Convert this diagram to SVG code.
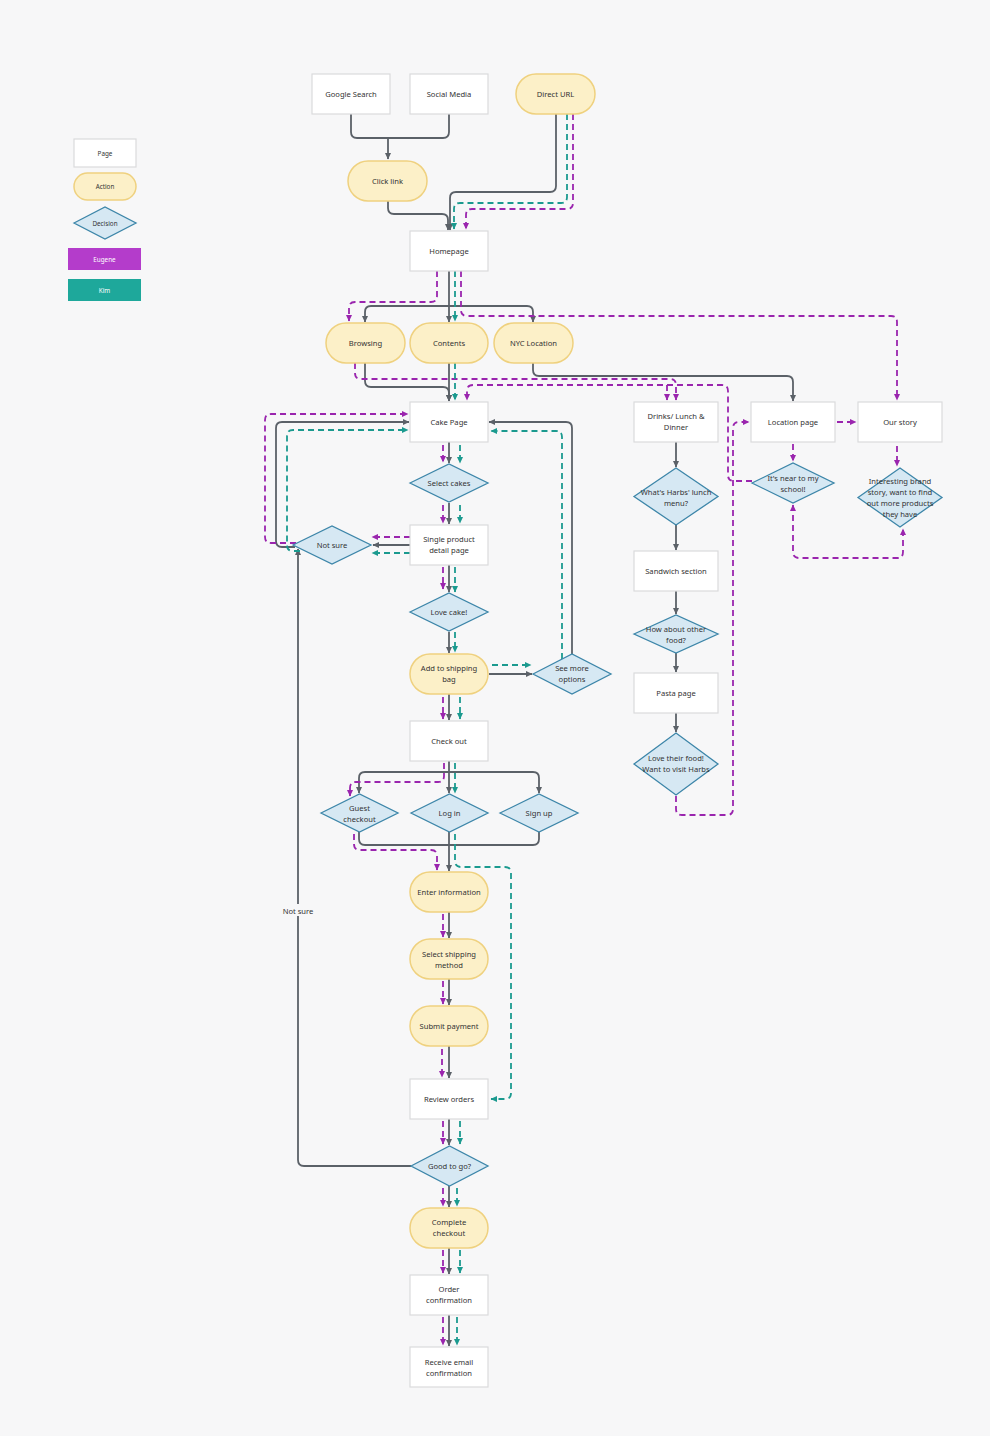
<svg xmlns="http://www.w3.org/2000/svg" width="990" height="1436" viewBox="0 0 990 1436">
<defs>
<marker id="ag" viewBox="0 0 8 8" refX="7" refY="4" markerWidth="7" markerHeight="7" markerUnits="userSpaceOnUse" orient="auto-start-reverse"><path d="M0,0.5 L7.5,4 L0,7.5 z" fill="#5b6168"/></marker>
<marker id="ap" viewBox="0 0 8 8" refX="7" refY="4" markerWidth="7" markerHeight="7" markerUnits="userSpaceOnUse" orient="auto-start-reverse"><path d="M0,0.5 L7.5,4 L0,7.5 z" fill="#9a25ae"/></marker>
<marker id="ak" viewBox="0 0 8 8" refX="7" refY="4" markerWidth="7" markerHeight="7" markerUnits="userSpaceOnUse" orient="auto-start-reverse"><path d="M0,0.5 L7.5,4 L0,7.5 z" fill="#1b9a8f"/></marker>
<style>
.pg{fill:#ffffff;stroke:#dadbdd;stroke-width:1.2}
.ac{fill:#fcf0c8;stroke:#efd17f;stroke-width:1.5}
.dc{fill:#d6e8f3;stroke:#3d86a9;stroke-width:1.3}
.t{font-family:"Noto Sans","Liberation Sans",sans-serif;font-size:7.6px;fill:#333;text-anchor:middle}
.lt{font-family:"Noto Sans","Liberation Sans",sans-serif;font-size:6.3px;fill:#333;text-anchor:middle}
.g{stroke:#5b6168;stroke-width:1.8;fill:none;stroke-linejoin:round}
.ga{marker-end:url(#ag)}
.p{stroke:#9a25ae;stroke-width:1.8;fill:none;stroke-dasharray:6 4;marker-end:url(#ap)}
.k{stroke:#1b9a8f;stroke-width:1.8;fill:none;stroke-dasharray:6 4;marker-end:url(#ak)}
</style>
</defs>
<rect x="0" y="0" width="990" height="1436" fill="#f7f7f8"/>

<g id="legend">
<g id="legend-page"><rect class="pg" x="74" y="139" width="62" height="28"/><text class="lt" x="105" y="155.5">Page</text></g>
<g id="legend-action"><rect class="ac" x="74" y="173" width="62" height="27" rx="13.5"/><text class="lt" x="105" y="189">Action</text></g>
<g id="legend-decision"><polygon class="dc" points="74,223 105,207 136,223 105,239"/><text class="lt" x="105" y="225.5">Decision</text></g>
<g id="legend-eugene"><rect x="68" y="248" width="73" height="22" fill="#b43ccb"/><text class="lt" x="104.5" y="261.5" style="fill:#fff">Eugene</text></g>
<g id="legend-kim"><rect x="68" y="279" width="73" height="22" fill="#1ea89b"/><text class="lt" x="104.5" y="292.5" style="fill:#fff">Kim</text></g>
</g>

<g id="connectors">
<!-- grey -->
<path class="g" d="M351,114 V132 Q351,138 357,138 H443 Q449,138 449,132 V114"/>
<path class="g ga" d="M388,138 V159"/>
<path class="g ga" d="M388,201 V208 Q388,214 394,214 H442 Q448,214 448,220 V230"/>
<path class="g ga" d="M556,114 V186 Q556,192 550,192 H456 Q450,192 450,198 V230"/>
<path class="g ga" d="M449,271 V322"/>
<path class="g ga" d="M449,306 H371 Q365,306 365,312 V322"/>
<path class="g ga" d="M449,306 H527 Q533,306 533,312 V322"/>
<path class="g ga" d="M365,363 V381 Q365,387 371,387 H443 Q449,387 449,393 V401"/>
<path class="g ga" d="M449,363 V401"/>
<path class="g ga" d="M533,363 V370 Q533,376 539,376 H787 Q793,376 793,382 V401"/>
<path class="g ga" d="M449,442 V463"/>
<path class="g ga" d="M449,503 V524"/>
<path class="g ga" d="M410,545 H373"/>
<path class="g ga" d="M295,547 H282 Q276,547 276,541 V428 Q276,422 282,422 H409"/>
<path class="g ga" d="M449,565 V592"/>
<path class="g ga" d="M449,632 V653"/>
<path class="g ga" d="M489,674 H532"/>
<path class="g ga" d="M572,654 V428 Q572,422 566,422 H489"/>
<path class="g ga" d="M449,694 V720"/>
<path class="g ga" d="M449,761 V793"/>
<path class="g ga" d="M449,772 H365 Q359,772 359,778 V793"/>
<path class="g ga" d="M449,772 H533 Q539,772 539,778 V793"/>
<path class="g" d="M359,832 V839 Q359,845 365,845 H533 Q539,845 539,839 V832"/>
<path class="g ga" d="M449,832 V871"/>
<path class="g ga" d="M449,912 V938"/>
<path class="g ga" d="M449,979 V1005"/>
<path class="g ga" d="M449,1046 V1078"/>
<path class="g ga" d="M449,1119 V1145"/>
<path class="g ga" d="M411,1166 H304 Q298,1166 298,1160 V549"/>
<path class="g ga" d="M449,1186 V1207"/>
<path class="g ga" d="M449,1248 V1274"/>
<path class="g ga" d="M449,1315 V1346"/>
<path class="g ga" d="M676,442 V467"/>
<path class="g ga" d="M676,525 V550"/>
<path class="g ga" d="M676,591 V614"/>
<path class="g ga" d="M676,653 V672"/>
<path class="g ga" d="M676,713 V732"/>
<!-- purple (Eugene) -->
<path class="p" d="M573,114 V203 Q573,209 567,209 H472 Q466,209 466,215 V229"/>
<path class="p" d="M437,271 V296 Q437,302 431,302 H355 Q349,302 349,308 V321"/>
<path class="p" d="M461,271 V310 Q461,316 467,316 H891 Q897,316 897,322 V400"/>
<path class="p" d="M355,363 V373 Q355,379 361,379 H670 Q676,379 676,385 V400"/>
<path class="p" d="M752,481 H734 Q728,481 728,475 V391 Q728,385 722,385 H473 Q467,385 467,391 V400"/>
<path class="p" d="M667,385 V400"/>
<path class="p" d="M676,796 V809 Q676,815 682,815 H727 Q733,815 733,809 V428 Q733,422 739,422 H749"/>
<path class="p" d="M410,537 H372"/>
<path class="p" d="M296,543 H271 Q265,543 265,537 V420 Q265,414 271,414 H408"/>
<path class="p" d="M443,445 V462"/>
<path class="p" d="M443,505 V523"/>
<path class="p" d="M443,567 V589"/>
<path class="p" d="M443,697 V719"/>
<path class="p" d="M444,763 V776 Q444,782 438,782 H356 Q350,782 350,788 V796"/>
<path class="p" d="M354,834 V844 Q354,850 360,850 H431 Q437,850 437,856 V870"/>
<path class="p" d="M443,914 V937"/>
<path class="p" d="M443,981 V1004"/>
<path class="p" d="M442,1049 V1077"/>
<path class="p" d="M443,1121 V1144"/>
<path class="p" d="M443,1188 V1206"/>
<path class="p" d="M443,1250 V1273"/>
<path class="p" d="M443,1317 V1345"/>
<path class="p" d="M793,444 V461"/>
<path class="p" d="M837,422 H856"/>
<path class="p" d="M897,446 V466"/>
<path class="p" style="marker-start:url(#ap)" d="M793,505 V552 Q793,558 799,558 H897 Q903,558 903,552 V529"/>
<!-- teal (Kim) -->
<path class="k" d="M567,114 V197 Q567,203 561,203 H460 Q454,203 454,209 V229"/>
<path class="k" d="M455,271 V321"/>
<path class="k" d="M455,363 V400"/>
<path class="k" d="M460,445 V463"/>
<path class="k" d="M460,505 V523"/>
<path class="k" d="M410,553 H372"/>
<path class="k" d="M300,551 H293 Q287,551 287,545 V436 Q287,430 293,430 H408"/>
<path class="k" d="M455,567 V592"/>
<path class="k" d="M455,632 V652"/>
<path class="k" d="M492,665 H531"/>
<path class="k" d="M562,659 V437 Q562,431 556,431 H491"/>
<path class="k" d="M460,697 V719"/>
<path class="k" d="M455,763 V793"/>
<path class="k" d="M455,834 V861 Q455,867 461,867 H505 Q511,867 511,873 V1093 Q511,1099 505,1099 H491"/>
<path class="k" d="M460,1121 V1144"/>
<path class="k" d="M457,1188 V1206"/>
<path class="k" d="M460,1250 V1273"/>
<path class="k" d="M457,1317 V1345"/>
<rect x="281" y="904" width="34" height="12" fill="#f7f7f8"/>
<text class="t" x="298" y="913.5">Not sure</text>
</g>

<g id="google-search"><rect class="pg" x="312" y="74" width="78" height="40"/><text class="t" x="351" y="96.5">Google Search</text></g>
<g id="social-media"><rect class="pg" x="410" y="74" width="78" height="40"/><text class="t" x="449" y="96.5">Social Media</text></g>
<g id="direct-url"><rect class="ac" x="516" y="74" width="79" height="40" rx="20"/><text class="t" x="555.5" y="96.5">Direct URL</text></g>
<g id="click-link"><rect class="ac" x="348" y="161" width="79" height="40" rx="20"/><text class="t" x="387.5" y="183.5">Click link</text></g>
<g id="homepage"><rect class="pg" x="410" y="231" width="78" height="40"/><text class="t" x="449" y="253.5">Homepage</text></g>
<g id="browsing"><rect class="ac" x="326" y="323" width="79" height="40" rx="20"/><text class="t" x="365.5" y="345.5">Browsing</text></g>
<g id="contents"><rect class="ac" x="410" y="323" width="78" height="40" rx="20"/><text class="t" x="449" y="345.5">Contents</text></g>
<g id="nyc-location"><rect class="ac" x="494" y="323" width="79" height="40" rx="20"/><text class="t" x="533.5" y="345.5">NYC Location</text></g>
<g id="cake-page"><rect class="pg" x="410" y="402" width="78" height="40"/><text class="t" x="449" y="424.5">Cake Page</text></g>
<g id="select-cakes"><polygon class="dc" points="410,483 449,464 488,483 449,502"/><text class="t" x="449" y="485.5">Select cakes</text></g>
<g id="single-product"><rect class="pg" x="410" y="525" width="78" height="40"/><text class="t" x="449" y="542">Single product</text><text class="t" x="449" y="553">detail page</text></g>
<g id="not-sure"><polygon class="dc" points="293,545 332,526 371,545 332,564"/><text class="t" x="332" y="547.5">Not sure</text></g>
<g id="love-cake"><polygon class="dc" points="410,612 449,593 488,612 449,631"/><text class="t" x="449" y="614.5">Love cake!</text></g>
<g id="add-to-bag"><rect class="ac" x="410" y="654" width="78" height="40" rx="20"/><text class="t" x="449" y="671">Add to shipping</text><text class="t" x="449" y="682">bag</text></g>
<g id="see-more"><polygon class="dc" points="533,674 572,654 611,674 572,694"/><text class="t" x="572" y="671">See more</text><text class="t" x="572" y="682">options</text></g>
<g id="check-out"><rect class="pg" x="410" y="721" width="78" height="40"/><text class="t" x="449" y="743.5">Check out</text></g>
<g id="guest-checkout"><polygon class="dc" points="321,813 359.5,794 398,813 359.5,832"/><text class="t" x="359.5" y="810.5">Guest</text><text class="t" x="359.5" y="821.5">checkout</text></g>
<g id="log-in"><polygon class="dc" points="411,813 449.5,794 488,813 449.5,832"/><text class="t" x="449.5" y="815.5">Log in</text></g>
<g id="sign-up"><polygon class="dc" points="500,813 539,794 578,813 539,832"/><text class="t" x="539" y="815.5">Sign up</text></g>
<g id="enter-information"><rect class="ac" x="410" y="872" width="78" height="40" rx="20"/><text class="t" x="449" y="894.5">Enter information</text></g>
<g id="select-shipping"><rect class="ac" x="410" y="939" width="78" height="40" rx="20"/><text class="t" x="449" y="956.5">Select shipping</text><text class="t" x="449" y="967.5">method</text></g>
<g id="submit-payment"><rect class="ac" x="410" y="1006" width="78" height="40" rx="20"/><text class="t" x="449" y="1028.5">Submit payment</text></g>
<g id="review-orders"><rect class="pg" x="410" y="1079" width="78" height="40"/><text class="t" x="449" y="1101.5">Review orders</text></g>
<g id="good-to-go"><polygon class="dc" points="411,1166 449.5,1146 488,1166 449.5,1186"/><text class="t" x="449.5" y="1168.5">Good to go?</text></g>
<g id="complete-checkout"><rect class="ac" x="410" y="1208" width="78" height="40" rx="20"/><text class="t" x="449" y="1225">Complete</text><text class="t" x="449" y="1236">checkout</text></g>
<g id="order-confirmation"><rect class="pg" x="410" y="1275" width="78" height="40"/><text class="t" x="449" y="1292">Order</text><text class="t" x="449" y="1303">confirmation</text></g>
<g id="receive-email"><rect class="pg" x="410" y="1347" width="78" height="40"/><text class="t" x="449" y="1364.5">Receive email</text><text class="t" x="449" y="1375.5">confirmation</text></g>

<g id="drinks-lunch-dinner"><rect class="pg" x="634" y="402" width="84" height="40"/><text class="t" x="676" y="419">Drinks/ Lunch &amp;</text><text class="t" x="676" y="430">Dinner</text></g>
<g id="harbs-lunch-menu"><polygon class="dc" points="634,496.5 676,468 718,496.5 676,525"/><text class="t" x="676" y="494.5">What's Harbs' lunch</text><text class="t" x="676" y="505.5">menu?</text></g>
<g id="sandwich-section"><rect class="pg" x="634" y="551" width="84" height="40"/><text class="t" x="676" y="573.5">Sandwich section</text></g>
<g id="other-food"><polygon class="dc" points="634,634 676,615 718,634 676,653"/><text class="t" x="676" y="631.5">How about other</text><text class="t" x="676" y="642.5">food?</text></g>
<g id="pasta-page"><rect class="pg" x="634" y="673" width="84" height="40"/><text class="t" x="676" y="695.5">Pasta page</text></g>
<g id="love-their-food"><polygon class="dc" points="634,764 676,733 718,764 676,795"/><text class="t" x="676" y="760.5">Love their food!</text><text class="t" x="676" y="771.5">Want to visit Harbs</text></g>
<g id="location-page"><rect class="pg" x="751" y="402" width="84" height="40"/><text class="t" x="793" y="424.5">Location page</text></g>
<g id="near-school"><polygon class="dc" points="752,483 793,463 834,483 793,503"/><text class="t" x="793" y="480.5">It's near to my</text><text class="t" x="793" y="491.5">school!</text></g>
<g id="our-story"><rect class="pg" x="858" y="402" width="84" height="40"/><text class="t" x="900" y="424.5">Our story</text></g>
<g id="interesting-brand"><polygon class="dc" points="858,497.5 900,468 942,497.5 900,527"/><text class="t" x="900" y="483.5">Interesting brand</text><text class="t" x="900" y="494.5">story, want to find</text><text class="t" x="900" y="505.5">out more products</text><text class="t" x="900" y="516.5">they have</text></g>
</svg>
